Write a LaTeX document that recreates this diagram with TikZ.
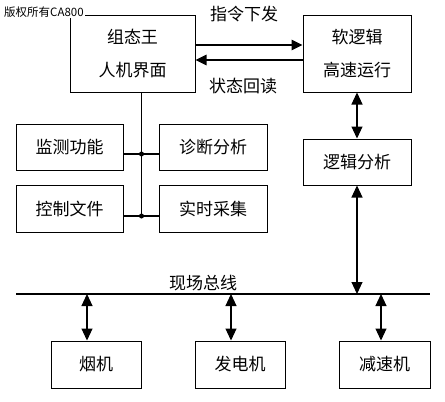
\documentclass[tikz,border=0pt]{standalone}
\usepackage{fontspec}
\newfontfamily\cjk{Noto Sans CJK SC}
\usetikzlibrary{arrows.meta}
\begin{document}
\begin{tikzpicture}[x=1pt,y=-1pt,
  box/.style={draw,line width=1pt,rectangle,inner sep=0pt,align=center,
    font=\cjk\fontsize{17}{33}\selectfont},
  lbl/.style={inner sep=0pt,font=\cjk\fontsize{17}{20}\selectfont},
  ln/.style={line width=1.1pt},
  arr/.style={ln,-{Triangle[length=11pt,width=10.5pt]}},
  darr/.style={ln,{Triangle[length=12pt,width=11pt]}-{Triangle[length=12pt,width=11pt]}},
  dot/.style={circle,fill,inner sep=0pt,minimum size=5pt}]
\useasboundingbox (0,0) rectangle (445,402);
\fill[white] (0,0) rectangle (445,402);
% boxes
\node[box,minimum width=125pt,minimum height=77pt] (zt) at (132.5,53.5) {组态王\\人机界面};
\node[box,minimum width=108pt,minimum height=77pt] (rl) at (357,53.5) {软逻辑\\高速运行};
\node[box,minimum width=107pt,minimum height=46pt] (jc) at (69.5,147) {监测功能};
\node[box,minimum width=108pt,minimum height=46pt] (zd) at (213,147) {诊断分析};
\node[box,minimum width=107pt,minimum height=47pt] (kz) at (69.5,208.5) {控制文件};
\node[box,minimum width=108pt,minimum height=47pt] (ss) at (213,208.5) {实时采集};
\node[box,minimum width=108pt,minimum height=46pt] (lj) at (357,162) {逻辑分析};
\node[box,minimum width=90pt,minimum height=47pt] (yj) at (96,364.5) {烟机};
\node[box,minimum width=90pt,minimum height=47pt] (fd) at (240,364.5) {发电机};
\node[box,minimum width=91pt,minimum height=47pt] (js) at (384.5,364.5) {减速机};
% watermark
\node[anchor=south west,fill=white,inner sep=1pt,font=\cjk\fontsize{11.5}{12}\selectfont] (wm) at (3,18.5) {版权所有CA800};
% labels
\node[lbl] (l1) at (244,14) {指令下发};
\node[lbl] (l2) at (243,86) {状态回读};
\node[lbl] (l3) at (203,283) {现场总线};
% top arrows
\coordinate (a1) at (195,45);
\coordinate (a2) at (303,60);
\draw[arr] (a1) -- (a1 -| rl.west);
\draw[arr] (a2) -- (a2 -| zt.east);
% tree
\coordinate (t0) at (141.5,92);
\node[dot] (d1) at (141.5,154) {};
\node[dot] (d2) at (141.5,216) {};
\draw[ln] (t0) -- (d2.center);
\draw[ln] (d1.center -| jc.east) -- (d1.center -| zd.west);
\draw[ln] (d2.center -| kz.east) -- (d2.center -| ss.west);
% right chain
\draw[darr] (rl.south) -- (lj.north);
\coordinate (busL) at (16,294);
\coordinate (busR) at (430,294);
\draw[ln] (busL) -- (busR);
\draw[darr] (lj.south) -- (lj.south |- busL);
% bus arrows
\coordinate (b1) at (87,294);
\coordinate (b2) at (231,294);
\coordinate (b3) at (381,294);
\draw[darr] (b1) -- (b1 |- yj.north);
\draw[darr] (b2) -- (b2 |- fd.north);
\draw[darr] (b3) -- (b3 |- js.north);
\end{tikzpicture}
\end{document}
